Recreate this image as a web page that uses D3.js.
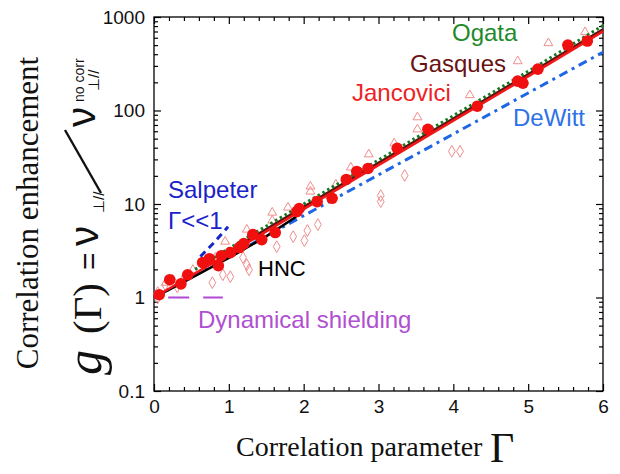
<!DOCTYPE html>
<html>
<head>
<meta charset="utf-8">
<script src="https://cdn.jsdelivr.net/npm/d3@7"></script>
<style>
  body { margin: 0; background: #fff; }
  svg { display: block; }
</style>
</head>
<body>
<svg id="chart" width="620" height="474"></svg>
<script>
// ---- data: correlation enhancement g(Γ) vs correlation parameter Γ ----
// filled circles
const circleGamma = [0.07, 0.21, 0.36, 0.45, 0.65, 0.74, 0.86, 0.90, 1.02, 1.14, 1.20, 1.32, 1.44, 1.62,
  1.91, 1.94, 2.18, 2.38, 2.57, 2.71, 2.86, 3.25, 3.66, 4.32, 4.86, 4.93, 5.13, 5.53, 5.79];
const circleG = [1.07, 1.55, 1.40, 1.75, 2.36, 2.60, 2.19, 2.80, 3.02, 3.42, 3.77, 4.71, 4.16, 4.95,
  8.3, 8.95, 10.6, 11.5, 18.3, 22.3, 24.0, 39.4, 63, 111, 206, 196, 277, 501, 553];
// open triangles
const triangleGamma = [0.05, 0.16, 0.25, 0.52, 0.82, 0.95, 1.24, 1.58, 1.58, 1.79, 2.09, 2.09, 2.43, 2.63,
  2.87, 3.21, 3.52, 3.52, 4.22, 4.86, 5.27, 5.76];
const triangleG = [1.15, 1.44, 1.55, 1.98, 2.67, 3.96, 5.33, 8.1, 6.65, 9.17, 15.4, 13.6, 16.2, 24.6,
  34.0, 44.5, 84.7, 63.0, 146, 337, 526, 690];
// open diamonds
const diamondGamma = [0.05, 0.15, 0.31, 0.39, 0.78, 0.92, 1.02, 1.19, 1.24, 1.27, 1.64, 1.86, 2.01, 2.05,
  2.19, 3.03, 3.03, 3.35, 3.98, 4.09];
const diamondG = [0.99, 1.37, 1.30, 1.55, 1.44, 1.75, 1.67, 2.67, 2.24, 1.98, 3.50, 4.48, 4.06, 5.20,
  6.03, 12.3, 10.6, 20.2, 36.6, 36.6];

// theory curves
const jancoviciGamma = [0, 1, 2, 3, 4, 5, 6];
const jancoviciG = [1.0, 2.95, 8.8, 26, 78, 232, 700];
const gasquesGamma = [1, 2, 3, 4, 5, 6];
const gasquesG = [3.1, 9.3, 27.5, 82, 244, 738];
const ogataGamma = [0.55, 1, 2, 3, 4, 5, 6];
const ogataG = [2.0, 3.35, 10.0, 29.5, 88, 262, 810];
const dewittGamma = [0, 1, 2, 3, 4, 5, 6];
const dewittG = [1.0, 2.74, 7.5, 20.5, 56, 154, 420];
const hncGamma = [0, 0.5, 1.0, 1.5, 1.9];
const hncG = [1.0, 1.62, 2.65, 4.5, 7.3];
const salpeterGamma = [0.62, 0.8, 0.99];
const salpeterG = [2.74, 3.85, 5.7];
const shieldingGamma = [0.19, 0.92];
const shieldingG = [1, 1];

// axis ticks
const xMajor = [0, 1, 2, 3, 4, 5, 6];
const yMajor = [0.1, 1, 10, 100, 1000];

// ---- layout ----
const svg = d3.select("#chart");
const padL = 154, padR = 603, padT = 17, padB = 391;
const x = d3.scaleLinear().domain([0, 6]).range([padL, padR]);
const y = d3.scaleLog().domain([0.1, 1000]).range([padB, padT]);

const xMinor = d3.range(0, 6.001, 0.2).filter(v => Math.abs(v - Math.round(v)) > 1e-6);
const yMinor = [];
[0.1, 1, 10, 100].forEach(d => { for (let k = 2; k <= 9; k++) yMinor.push(k * d); });

const sans = "'Liberation Sans', Arial, Helvetica, sans-serif";
const serif = "'Liberation Serif', 'Times New Roman', Times, serif";

function styleAxis(g, labels) {
  g.select(".domain").remove();
  g.selectAll(".tick line").attr("stroke", "#000").attr("stroke-width", 1.2);
  g.selectAll(".tick text").attr("font-family", sans).attr("font-size", 19).attr("fill", "#111");
  if (!labels) g.selectAll(".tick text").remove();
}

// bottom / top
svg.append("g").attr("transform", `translate(0,${padB})`)
  .call(d3.axisBottom(x).tickValues(xMajor).tickSize(-7).tickSizeOuter(0).tickPadding(9).tickFormat(d3.format("d")))
  .call(g => styleAxis(g, true));
svg.append("g").attr("transform", `translate(0,${padB})`)
  .call(d3.axisBottom(x).tickValues(xMinor).tickSize(-4).tickSizeOuter(0).tickFormat(""))
  .call(g => styleAxis(g, false));
svg.append("g").attr("transform", `translate(0,${padT})`)
  .call(d3.axisTop(x).tickValues(xMajor).tickSize(-7).tickSizeOuter(0).tickFormat(""))
  .call(g => styleAxis(g, false));
svg.append("g").attr("transform", `translate(0,${padT})`)
  .call(d3.axisTop(x).tickValues(xMinor).tickSize(-4).tickSizeOuter(0).tickFormat(""))
  .call(g => styleAxis(g, false));
// left / right
svg.append("g").attr("transform", `translate(${padL},0)`)
  .call(d3.axisLeft(y).tickValues(yMajor).tickSize(-7).tickSizeOuter(0).tickPadding(9).tickFormat(d => String(d)))
  .call(g => styleAxis(g, true));
svg.append("g").attr("transform", `translate(${padL},0)`)
  .call(d3.axisLeft(y).tickValues(yMinor).tickSize(-4).tickSizeOuter(0).tickFormat(""))
  .call(g => styleAxis(g, false));
svg.append("g").attr("transform", `translate(${padR},0)`)
  .call(d3.axisRight(y).tickValues(yMajor).tickSize(-7).tickSizeOuter(0).tickFormat(""))
  .call(g => styleAxis(g, false));
svg.append("g").attr("transform", `translate(${padR},0)`)
  .call(d3.axisRight(y).tickValues(yMinor).tickSize(-4).tickSizeOuter(0).tickFormat(""))
  .call(g => styleAxis(g, false));

svg.append("rect").attr("x", padL).attr("y", padT).attr("width", padR - padL).attr("height", padB - padT)
  .attr("fill", "none").attr("stroke", "#000").attr("stroke-width", 1.3);

const plot = svg.append("g");

// open markers
const zip = (a, b) => a.map((v, i) => [v, b[i]]);
plot.selectAll("path.tri").data(zip(triangleGamma, triangleG)).join("path")
  .attr("class", "tri")
  .attr("transform", d => `translate(${x(d[0])},${y(d[1])})`)
  .attr("d", d3.symbol(d3.symbolTriangle, 34))
  .attr("fill", "none").attr("stroke", "#f08d8d").attr("stroke-width", 1);
plot.selectAll("path.dia").data(zip(diamondGamma, diamondG)).join("path")
  .attr("class", "dia")
  .attr("transform", d => `translate(${x(d[0])},${y(d[1])})`)
  .attr("d", d3.symbol(d3.symbolDiamond, 40))
  .attr("fill", "none").attr("stroke", "#f08d8d").attr("stroke-width", 1);

const line = d3.line().x(d => x(d[0])).y(d => y(d[1]));
function curve(gs, vs, color, width, dash) {
  plot.append("path").datum(zip(gs, vs)).attr("d", line)
    .attr("fill", "none").attr("stroke", color).attr("stroke-width", width)
    .attr("stroke-dasharray", dash || null).attr("stroke-linecap", "butt");
}
curve(dewittGamma, dewittG, "#1f66e5", 3, "9,5,3,5");
curve(hncGamma, hncG, "#000", 2.6);
curve(gasquesGamma, gasquesG, "#5e1010", 2.6);
curve(ogataGamma, ogataG, "#137a20", 3, "2.5,3");
curve(jancoviciGamma, jancoviciG, "#f01818", 2.6);

// filled circles
plot.selectAll("circle").data(zip(circleGamma, circleG)).join("circle")
  .attr("cx", d => x(d[0])).attr("cy", d => y(d[1])).attr("r", 5.8)
  .attr("fill", "#f01010");

curve(salpeterGamma, salpeterG, "#1626c8", 3, "7,5");
curve(shieldingGamma, shieldingG, "#b04ad6", 2.2, "21,14");

// curve labels
const labels = [
  { t: "Ogata", x: 452, y: 41, c: "#1f8a2a", s: 24 },
  { t: "Gasques", x: 410, y: 72, c: "#6a1212", s: 24 },
  { t: "Jancovici", x: 352, y: 101, c: "#ee2222", s: 24 },
  { t: "DeWitt", x: 513, y: 126, c: "#2e73e6", s: 24 },
  { t: "Salpeter", x: 168, y: 198, c: "#1a22c8", s: 24 },
  { t: "Γ<<1", x: 168, y: 229, c: "#1a22c8", s: 24 },
  { t: "HNC", x: 258, y: 276, c: "#000", s: 22 },
  { t: "Dynamical shielding", x: 198, y: 328, c: "#b14fd2", s: 24 }
];
svg.selectAll("text.lab").data(labels).join("text").attr("class", "lab")
  .attr("x", d => d.x).attr("y", d => d.y).attr("fill", d => d.c)
  .attr("font-family", sans).attr("font-size", d => d.s).text(d => d.t);

// x-axis title
svg.append("text").attr("x", 236).attr("y", 456).attr("font-family", serif).attr("font-size", 28)
  .attr("fill", "#111").text("Correlation parameter");
svg.append("text").attr("x", 490).attr("y", 462).attr("font-family", serif).attr("font-size", 42)
  .attr("fill", "#111").text("Γ");

// y-axis title (rotated)
function vtext(X, Y, str, fam, size, extra) {
  const t = svg.append("text").attr("transform", `translate(${X},${Y}) rotate(-90)`)
    .attr("font-family", fam).attr("font-size", size).attr("fill", "#111").text(str);
  if (extra) extra(t);
  return t;
}
vtext(38, 213, "Correlation enhancement", serif, 31, t => t.attr("text-anchor", "middle"));
vtext(101, 375, "g", serif, 50, t => t.attr("font-style", "italic"));
vtext(101, 334, "(Γ)", serif, 41);
vtext(99, 270, "=", sans, 30);
vtext(98, 246, "ν", sans, 40);
vtext(104, 213, "⊥//", sans, 15);
svg.append("line").attr("x1", 65).attr("y1", 130).attr("x2", 101).attr("y2", 193)
  .attr("stroke", "#111").attr("stroke-width", 2.4);
vtext(95, 127, "ν", sans, 40);
vtext(84, 102, "no corr", sans, 14);
vtext(99, 91, "⊥//", sans, 15);
</script>
</body>
</html>
